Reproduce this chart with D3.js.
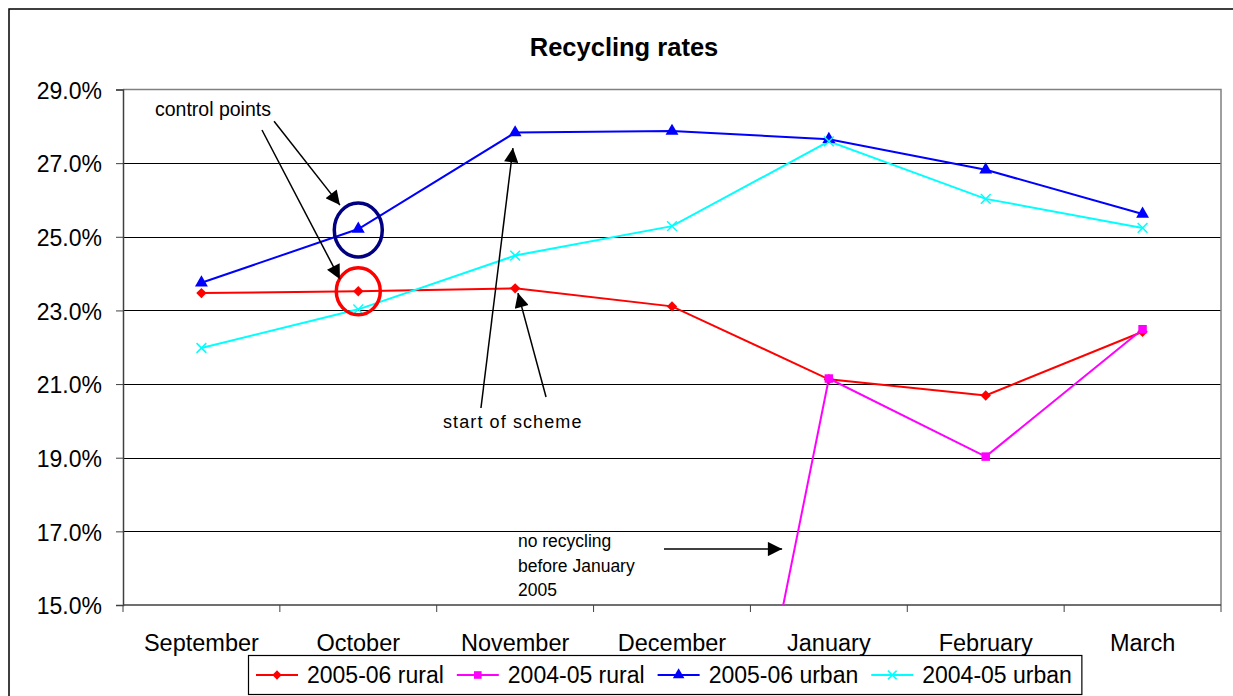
<!DOCTYPE html>
<html>
<head>
<meta charset="utf-8">
<script src="https://cdn.jsdelivr.net/npm/d3@7"></script>
<style>
  body { margin: 0; background: #fff; }
  svg { display: block; font-family: "Liberation Sans", Arial, sans-serif; }
</style>
</head>
<body>
<div id="chart"></div>
<script>
/********** Data **********/
var months = ["September", "October", "November", "December", "January", "February", "March"]
var rural0506 = [23.47, 23.52, 23.60, 23.11, 21.13, 20.69, 22.42]
var rural0405 = [0, 0, 0, 0, 21.15, 19.03, 22.49] // no recycling before January 2005
var urban0506 = [23.75, 25.21, 27.83, 27.87, 27.65, 26.82, 25.62]
var urban0405 = [21.98, 23.03, 24.49, 25.29, 27.59, 26.03, 25.24]
var yTicks = [15, 17, 19, 21, 23, 25, 27, 29]
var seriesNames = ["2005-06 rural", "2004-05 rural", "2005-06 urban", "2004-05 urban"]

// diamond = square turned 45 degrees (d3's own diamond is too narrow)
var series = [
  {name: seriesNames[0], values: rural0506, color: "#FF0000", symbol: d3.symbolSquare, size: 54, rotate: 45, fill: true},
  {name: seriesNames[1], values: rural0405, color: "#FF00FF", symbol: d3.symbolSquare, size: 72, rotate: 0, fill: true},
  {name: seriesNames[2], values: urban0506, color: "#0000FF", symbol: d3.symbolTriangle, size: 72, rotate: 0, fill: true},
  {name: seriesNames[3], values: urban0405, color: "#00FFFF", symbol: d3.symbolX, size: 64, rotate: 0, fill: false}
]

/********** Layout **********/
var W = 1233, H = 696
var plot = {left: 123, right: 1221, top: 89.5, bottom: 605}

var svg = d3.select("#chart").append("svg")
    .attr("width", W)
    .attr("height", H)

// outer chart border (runs off the right / bottom of the picture)
svg.append("rect")
    .attr("x", 9).attr("y", 9)
    .attr("width", 1260).attr("height", 720)
    .attr("fill", "none")
    .attr("stroke", "#000")
    .attr("stroke-width", 1.5)

// scales
var x = d3.scaleBand().domain(months).range([plot.left, plot.right]).padding(0)
var xi = d3.scaleLinear().domain([-0.5, months.length - 0.5]).range([plot.left, plot.right]) // index -> px
var y = d3.scaleLinear().domain([15, 29]).range([plot.bottom, plot.top])
var cx = function(i) { return x(months[i]) + x.bandwidth() / 2 }

// title
svg.append("text")
    .attr("x", 624).attr("y", 56)
    .attr("text-anchor", "middle")
    .style("font-size", "25.5px")
    .style("font-weight", "bold")
    .text("Recycling rates")

// gridlines
svg.append("g").selectAll("line")
  .data(yTicks.filter(function(d) { return d > 15 && d < 29 }))
  .join("line")
    .attr("x1", plot.left).attr("x2", plot.right)
    .attr("y1", function(d) { return Math.round(y(d)) + 0.5 })
    .attr("y2", function(d) { return Math.round(y(d)) + 0.5 })
    .attr("stroke", "#000")
    .attr("stroke-width", 1)

// plot area border top / right
svg.append("path")
    .attr("d", "M" + plot.left + "," + plot.top + "H" + plot.right + "V" + plot.bottom)
    .attr("fill", "none")
    .attr("stroke", "#808080")
    .attr("stroke-width", 1.5)

// y axis
var yAxis = svg.append("g")
    .attr("transform", "translate(" + plot.left + ",0)")
    .call(d3.axisLeft(y).tickValues(yTicks).tickSize(7).tickPadding(14)
      .tickFormat(function(d) { return d.toFixed(1) + "%" }))
yAxis.select(".domain").attr("stroke", "#404040").attr("stroke-width", 1.5)
yAxis.selectAll(".tick line").attr("stroke", "#404040")
yAxis.selectAll(".tick text")
    .style("font-size", "23px")
    .style("font-family", "'Liberation Sans', Arial, sans-serif")
    .attr("fill", "#000")
    .attr("dy", "0.38em")

// x axis: ticks on the category boundaries, labels in the middle
var xb = d3.range(months.length + 1).map(function(i) { return xi(i - 0.5) })
svg.append("line")
    .attr("x1", plot.left).attr("x2", plot.right)
    .attr("y1", plot.bottom).attr("y2", plot.bottom)
    .attr("stroke", "#404040").attr("stroke-width", 1.5)
svg.append("g").selectAll("line").data(xb).join("line")
    .attr("x1", function(d) { return d }).attr("x2", function(d) { return d })
    .attr("y1", plot.bottom).attr("y2", plot.bottom + 7)
    .attr("stroke", "#404040")
svg.append("g").selectAll("text").data(months).join("text")
    .attr("x", function(d, i) { return cx(i) })
    .attr("y", 651)
    .attr("text-anchor", "middle")
    .style("font-size", "23.5px")
    .text(function(d) { return d })

// clip to plot area
svg.append("clipPath").attr("id", "clip")
  .append("rect")
    .attr("x", plot.left).attr("y", plot.top - 10)
    .attr("width", plot.right - plot.left).attr("height", plot.bottom - plot.top + 10)

var lineGen = d3.line()
    .x(function(d, i) { return cx(i) })
    .y(function(d) { return y(d) })

var marks = svg.append("g").attr("clip-path", "url(#clip)")

series.forEach(function(s) {
  marks.append("path")
      .datum(s.values)
      .attr("fill", "none")
      .attr("stroke", s.color)
      .attr("stroke-width", 2)
      .attr("d", lineGen)
})
series.forEach(function(s) {
  marks.append("g").selectAll("path")
    .data(s.values.map(function(v, i) { return {v: v, i: i} }).filter(function(d) { return d.v >= 15 }))
    .join("path")
      .attr("transform", function(d) { return "translate(" + cx(d.i) + "," + y(d.v) + ") rotate(" + s.rotate + ")" })
      .attr("d", d3.symbol().type(s.symbol).size(s.size))
      .attr("fill", s.fill ? s.color : "none")
      .attr("stroke", s.color)
      .attr("stroke-width", s.fill ? 0 : 1.5)
})

/********** Annotations (in index / percent units) **********/
svg.append("defs").append("marker")
    .attr("id", "arrow")
    .attr("viewBox", "0 0 10 10")
    .attr("refX", 10).attr("refY", 5)
    .attr("markerWidth", 10.5).attr("markerHeight", 9.5)
    .attr("markerUnits", "strokeWidth")
    .attr("orient", "auto")
  .append("path")
    .attr("d", "M0,0L10,5L0,10Z")
    .attr("fill", "#000")

// circled control points (October)
svg.append("ellipse")
    .attr("cx", cx(1)).attr("cy", y(urban0506[1]) + 1)
    .attr("rx", 24).attr("ry", 27)
    .attr("fill", "none").attr("stroke", "#000080").attr("stroke-width", 3.5)
svg.append("ellipse")
    .attr("cx", cx(1)).attr("cy", y(rural0506[1]))
    .attr("rx", 22).attr("ry", 23.5)
    .attr("fill", "none").attr("stroke", "#FF0000").attr("stroke-width", 3.5)

var arrows = [
  {from: [0.463, 28.14], to: [0.883, 25.86]},  // control points -> blue circle
  {from: [0.386, 27.90], to: [0.883, 23.85]},  // control points -> red circle
  {from: [1.782, 20.35], to: [1.986, 27.41]},  // start of scheme -> urban Nov
  {from: [2.197, 20.65], to: [2.018, 23.47]},  // start of scheme -> rural Nov
  {from: [2.949, 16.52], to: [3.702, 16.52]}   // no recycling -> pink line
]
svg.append("g").selectAll("line").data(arrows).join("line")
    .attr("x1", function(d) { return xi(d.from[0]) })
    .attr("y1", function(d) { return y(d.from[1]) })
    .attr("x2", function(d) { return xi(d.to[0]) })
    .attr("y2", function(d) { return y(d.to[1]) })
    .attr("stroke", "#000")
    .attr("stroke-width", 1.5)
    .attr("marker-end", "url(#arrow)")

svg.append("text")
    .attr("x", xi(-0.296)).attr("y", 116)
    .style("font-size", "19.5px")
    .text("control points")

svg.append("text")
    .attr("x", xi(1.54)).attr("y", 428)
    .style("font-size", "18px")
    .style("letter-spacing", "1.1px")
    .text("start of scheme")

var noRec = ["no recycling", "before January", "2005"]
svg.append("g").selectAll("text").data(noRec).join("text")
    .attr("x", xi(2.018))
    .attr("y", function(d, i) { return 547 + i * 24.5 })
    .style("font-size", "17.5px")
    .text(function(d) { return d })

/********** Legend **********/
var legend = svg.append("g")
var lgBox = legend.append("rect")
    .attr("x", 248.5).attr("y", 655.5)
    .attr("height", 39).attr("width", 834)
    .attr("fill", "#fff").attr("stroke", "#000").attr("stroke-width", 1.2)

var lx = 256
series.forEach(function(s) {
  legend.append("line")
      .attr("x1", lx).attr("x2", lx + 42)
      .attr("y1", 675).attr("y2", 675)
      .attr("stroke", s.color).attr("stroke-width", 2)
  legend.append("path")
      .attr("transform", "translate(" + (lx + 21) + ",675) rotate(" + s.rotate + ")")
      .attr("d", d3.symbol().type(s.symbol).size(s.size * 0.8))
      .attr("fill", s.fill ? s.color : "none")
      .attr("stroke", s.color)
      .attr("stroke-width", s.fill ? 0 : 1.5)
  var t = legend.append("text")
      .attr("x", lx + 51).attr("y", 683)
      .style("font-size", "23px")
      .text(s.name)
  lx = lx + 51 + t.node().getComputedTextLength() + 13
})
lgBox.attr("width", lx - 248.5 - 3)
</script>
</body>
</html>
